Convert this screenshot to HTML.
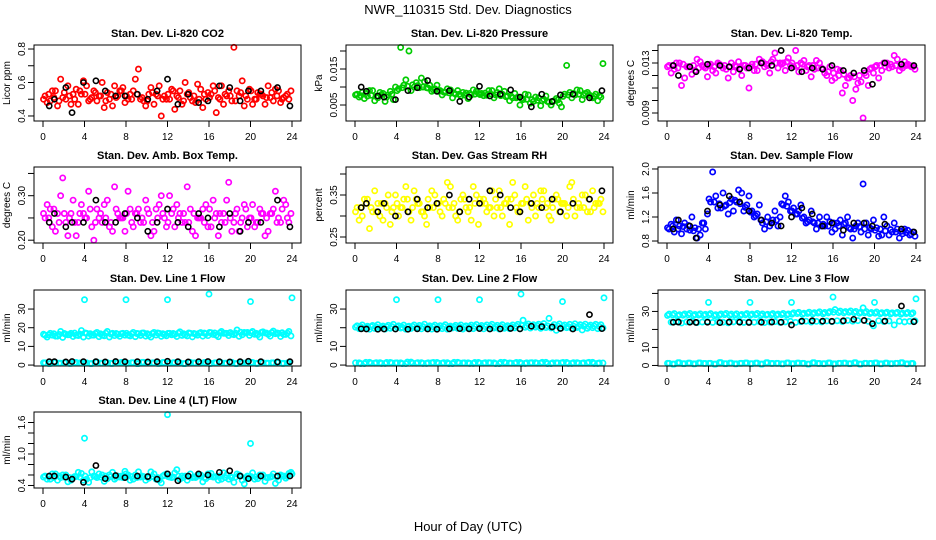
<!DOCTYPE html>
<html><head><meta charset="utf-8"><style>
html,body{margin:0;padding:0;background:#fff;}
svg{display:block;font-family:"Liberation Sans",sans-serif;}
</style></head><body>
<svg id="chart" width="936" height="540" viewBox="0 0 936 540">
<text x="468" y="14" text-anchor="middle" font-size="13">NWR_110315  Std. Dev. Diagnostics</text>
<text x="468" y="531" text-anchor="middle" font-size="13">Hour of Day (UTC)</text>
</svg>
<script>
const hoursA=[0.2,0.7,1.2,1.7,2.2,2.7,3.2,3.7,4.2,4.7,5.2,5.7,6.2,6.7,7.2,7.7,8.2,8.7,9.2,9.7,10.2,10.7,11.2,11.7,12.2,12.7,13.2,13.7,14.2,14.7,15.2,15.7,16.2,16.7,17.2,17.7,18.2,18.7,19.2,19.7,20.2,20.7,21.2,21.7,22.2,22.7,23.2,23.7];
const hoursB=[0.4,0.9,1.4,1.9,2.4,2.9,3.4,3.9,4.4,4.9,5.4,5.9,6.4,6.9,7.4,7.9,8.4,8.9,9.4,9.9,10.4,10.9,11.4,11.9,12.4,12.9,13.4,13.9,14.4,14.9,15.4,15.9,16.4,16.9,17.4,17.9,18.4,18.9,19.4,19.9,20.4,20.9,21.4,21.9,22.4,22.9,23.4,23.9];
const hoursC=[0.05,0.55,1.05,1.55,2.05,2.55,3.05,3.55,4.05,4.55,5.05,5.55,6.05,6.55,7.05,7.55,8.05,8.55,9.05,9.55,10.05,10.55,11.05,11.55,12.05,12.55,13.05,13.55,14.05,14.55,15.05,15.55,16.05,16.55,17.05,17.55,18.05,18.55,19.05,19.55,20.05,20.55,21.05,21.55,22.05,22.55,23.05,23.55];
const hoursK=[0.6,1.1,2.2,2.8,3.9,5.1,6.0,7.0,7.9,9.1,10.1,11.0,12.0,13.0,14.0,15.0,15.9,17.0,18.0,19.0,19.8,21.0,22.6,23.8];
const outHours=[4,8,12,16,20,24];

const co2A=[0.52,0.49,0.55,0.62,0.50,0.47,0.56,0.53,0.58,0.51,0.49,0.60,0.54,0.46,0.52,0.57,0.50,0.55,0.68,0.49,0.53,0.47,0.58,0.52,0.50,0.44,0.55,0.60,0.51,0.48,0.56,0.50,0.53,0.42,0.58,0.52,0.49,0.55,0.61,0.50,0.47,0.54,0.52,0.58,0.49,0.55,0.51,0.50];
const co2B=[0.48,0.55,0.46,0.51,0.58,0.53,0.47,0.61,0.49,0.55,0.52,0.45,0.50,0.58,0.55,0.48,0.53,0.62,0.50,0.46,0.57,0.53,0.40,0.50,0.56,0.52,0.47,0.53,0.49,0.59,0.45,0.54,0.58,0.51,0.47,0.55,0.81,0.52,0.46,0.56,0.50,0.53,0.47,0.51,0.56,0.48,0.52,0.55];
const co2C=[0.50,0.53,0.51,0.49,0.54,0.52,0.50,0.55,0.53,0.50,0.54,0.52,0.49,0.53,0.51,0.55,0.52,0.50,0.53,0.51,0.49,0.54,0.52,0.50,0.53,0.55,0.51,0.49,0.54,0.52,0.50,0.53,0.51,0.55,0.50,0.53,0.52,0.49,0.54,0.52,0.55,0.50,0.53,0.51,0.54,0.52,0.50,0.53];
const co2K=[0.46,0.50,0.57,0.42,0.60,0.61,0.55,0.52,0.52,0.53,0.50,0.55,0.62,0.47,0.53,0.48,0.49,0.58,0.57,0.49,0.55,0.55,0.57,0.46];

const presA=[.0080,.0085,.0075,.0090,.0070,.0082,.0078,.0065,.0095,.0105,.0200,.0100,.0098,.0115,.0105,.0095,.0090,.0085,.0092,.0080,.0075,.0083,.0078,.0088,.0082,.0077,.0090,.0085,.0080,.0075,.0070,.0072,.0065,.0078,.0060,.0070,.0066,.0058,.0062,.0055,.0080,.0085,.0078,.0090,.0082,.0075,.0080,.0072];
const presB=[.0072,.0068,.0090,.0062,.0085,.0060,.0088,.0100,.0210,.0120,.0090,.0112,.0125,.0098,.0088,.0105,.0078,.0095,.0070,.0090,.0085,.0068,.0092,.0082,.0076,.0090,.0070,.0095,.0088,.0062,.0082,.0050,.0080,.0055,.0072,.0048,.0075,.0050,.0068,.0045,.0160,.0070,.0092,.0065,.0085,.0070,.0062,.0165];
const presC=[.0078,.0076,.0082,.0077,.0074,.0079,.0072,.0080,.0090,.0098,.0102,.0106,.0104,.0100,.0097,.0092,.0088,.0086,.0084,.0083,.0080,.0078,.0082,.0080,.0079,.0083,.0081,.0078,.0076,.0073,.0074,.0070,.0068,.0066,.0065,.0063,.0062,.0060,.0059,.0064,.0074,.0078,.0082,.0080,.0077,.0079,.0074,.0076];
const presK=[.0100,.0088,.0075,.0072,.0065,.0090,.0098,.0118,.0088,.0090,.0060,.0072,.0102,.0075,.0080,.0092,.0072,.0045,.0080,.0060,.0078,.0080,.0070,.0090];

const tempA=[.0128,.0125,.0130,.0118,.0127,.0124,.0131,.0126,.0129,.0122,.0128,.0125,.0130,.0127,.0120,.0126,.0129,.0124,.0131,.0128,.0133,.0126,.0130,.0134,.0127,.0123,.0132,.0128,.0125,.0130,.0122,.0127,.0118,.0124,.0112,.0120,.0109,.0115,.0120,.0126,.0128,.0124,.0130,.0127,.0133,.0126,.0129,.0127];
const tempB=[.0122,.0130,.0112,.0127,.0121,.0133,.0128,.0119,.0124,.0130,.0126,.0118,.0123,.0131,.0128,.0110,.0124,.0133,.0127,.0122,.0138,.0130,.0124,.0128,.0140,.0130,.0124,.0119,.0132,.0126,.0120,.0116,.0125,.0106,.0118,.0100,.0114,.0086,.0112,.0122,.0118,.0130,.0126,.0136,.0124,.0131,.0128,.0125];
const tempC=[.0127,.0128,.0126,.0129,.0127,.0128,.0126,.0127,.0128,.0127,.0129,.0128,.0127,.0128,.0126,.0128,.0127,.0129,.0130,.0129,.0131,.0130,.0129,.0131,.0130,.0128,.0129,.0127,.0128,.0126,.0125,.0123,.0122,.0120,.0121,.0118,.0119,.0120,.0122,.0125,.0127,.0128,.0127,.0129,.0128,.0127,.0128,.0127];
const tempK=[.0128,.0120,.0127,.0123,.0129,.0128,.0127,.0125,.0126,.0130,.0128,.0140,.0126,.0123,.0126,.0125,.0128,.0124,.0122,.0124,.0113,.0130,.0129,.0128];

const boxA=[.25,.27,.22,.30,.24,.26,.21,.28,.25,.23,.27,.24,.29,.22,.26,.25,.31,.23,.27,.24,.26,.22,.28,.25,.30,.23,.26,.24,.27,.21,.25,.28,.23,.26,.24,.29,.22,.27,.25,.23,.28,.24,.26,.22,.27,.25,.29,.24];
const boxB=[.28,.23,.26,.34,.21,.29,.24,.26,.31,.20,.25,.28,.23,.32,.25,.22,.27,.26,.24,.29,.21,.27,.30,.23,.26,.28,.24,.32,.22,.25,.27,.23,.29,.21,.26,.33,.24,.22,.28,.25,.23,.27,.21,.26,.31,.24,.28,.26];
const boxC=[.26,.25,.27,.24,.26,.25,.24,.26,.25,.27,.24,.26,.25,.24,.27,.25,.26,.24,.26,.25,.27,.24,.25,.26,.24,.27,.25,.26,.24,.26,.25,.24,.27,.25,.26,.24,.25,.26,.24,.27,.25,.24,.26,.25,.26,.24,.27,.25];
const boxK=[.24,.26,.23,.24,.24,.29,.24,.24,.26,.25,.22,.24,.27,.24,.23,.26,.25,.23,.26,.22,.24,.24,.29,.23];

const rhA=[.32,.30,.34,.31,.33,.29,.35,.32,.30,.34,.31,.36,.33,.30,.32,.35,.31,.33,.37,.30,.34,.32,.29,.35,.33,.31,.36,.32,.30,.34,.38,.31,.33,.29,.35,.32,.36,.30,.34,.31,.33,.37,.30,.32,.35,.31,.33,.34];
const rhB=[.29,.34,.27,.36,.30,.33,.28,.35,.32,.37,.29,.34,.31,.28,.36,.33,.30,.38,.32,.29,.35,.31,.37,.28,.34,.32,.30,.36,.33,.28,.35,.31,.37,.33,.30,.36,.32,.29,.35,.33,.30,.38,.32,.35,.31,.36,.33,.31];
const rhC=[.31,.32,.33,.32,.31,.33,.32,.31,.33,.32,.34,.32,.33,.31,.34,.32,.33,.34,.32,.33,.31,.34,.32,.33,.34,.33,.32,.34,.32,.33,.34,.32,.33,.34,.32,.33,.34,.33,.32,.34,.33,.32,.34,.33,.32,.34,.32,.33];
const rhK=[.32,.33,.31,.33,.30,.31,.34,.32,.33,.35,.31,.34,.33,.36,.35,.32,.31,.33,.32,.34,.31,.33,.34,.36];

const sfA=[1.0,0.95,1.05,1.1,0.98,1.02,0.9,1.0,1.45,1.55,1.35,1.4,1.5,1.45,1.6,1.4,1.3,1.25,1.1,1.2,1.15,1.05,1.4,1.45,1.35,1.3,1.2,1.15,1.1,1.2,1.05,1.12,1.0,1.15,1.1,1.0,1.05,0.95,1.1,1.0,1.02,0.9,1.05,0.95,1.0,0.92,0.98,0.95];
const sfB=[1.08,1.15,0.92,1.0,1.2,0.85,1.1,1.25,1.95,1.35,1.6,1.25,1.3,1.65,1.3,1.55,1.2,1.4,1.0,1.05,1.3,1.2,1.55,1.3,1.25,1.4,1.1,1.3,1.0,1.05,1.2,0.95,1.1,0.9,1.2,0.85,1.1,1.75,0.9,1.15,0.88,1.2,0.9,1.1,0.85,1.0,0.9,0.88];
const sfC=[1.02,1.05,1.0,1.04,1.06,0.97,1.0,1.1,1.5,1.45,1.42,1.38,1.44,1.48,1.42,1.36,1.28,1.22,1.15,1.12,1.1,1.15,1.42,1.38,1.3,1.25,1.18,1.12,1.12,1.1,1.08,1.05,1.1,1.05,1.08,1.02,1.0,1.04,1.0,1.02,0.98,1.0,0.97,0.99,0.95,0.96,0.94,0.92];
const sfK=[1.0,1.15,1.05,0.85,1.3,1.4,1.55,1.45,1.3,1.15,1.1,1.05,1.2,1.35,1.25,1.05,1.1,0.98,1.1,1.1,1.05,1.08,1.0,0.95];

const zeroBand=[1.2,0.8,1.5,1.0,1.3,0.9,1.4,1.1,1.2,0.8,1.6,1.0,1.3,0.9,1.2,1.4,1.0,1.3,0.8,1.5,1.1,1.2,0.9,1.4,1.0,1.3,1.2,0.8,1.5,1.1,1.0,1.4,0.9,1.2,1.3,1.0,1.5,0.8,1.2,1.1,1.4,0.9,1.3,1.0,1.2,1.5,0.9,1.1];

const l1A=[16,17,15.5,18,16.5,17,16,18.5,17,16,17.5,16,18,17,16.5,17,16,17.5,16.8,17.2,16,17.5,17,16.3,17,16.5,17.8,16.2,17,16.6,17.4,16.8,17.3,16,18,17,16.6,18.8,16.2,17.5,18,16.3,17.8,16.5,18.2,17,16.4,18];
const l1B=[15,16,15.5,14.8,16.2,15.3,15.8,15,15.5,16,15.2,15.7,15,15.8,15.4,16,15.6,15.2,15.9,15.5,15,16.1,15.4,15.7,16.2,15.3,15.9,15.6,15.1,16,15.5,15.8,16.4,15.2,17,15.8,16.3,15.4,17.5,15.9,16.5,15,17.2,15.5,16.8,15.3,16.4,15.6];
const l1C=[16.5,16.2,16.8,16.4,16.9,16.3,17.1,16.6,17.2,16.8,16.9,16.7,17.1,16.6,16.9,16.8,17.0,16.7,16.9,17.1,16.8,16.9,17.2,16.8,17.0,16.9,17.1,16.8,17.2,16.9,17.0,17.1,17.5,17.2,17.3,17.0,17.4,17.1,17.6,17.2,17.3,17.0,17.5,17.1,17.4,17.2,17.3,17.1];
const l1Out=[35,35,35,38,34,36];
const l1K=[1.8,1.8,1.7,1.9,1.8,1.8,1.7,1.9,1.8,1.8,1.7,1.8,2.0,1.8,1.7,1.8,1.9,1.8,1.7,1.8,2.0,1.8,1.7,1.8];

const l2A=[21,21.5,20.8,21.2,21.6,20.9,21.3,21.8,21,21.4,20.8,21.5,21.2,21.9,21,21.4,21.1,21.6,20.9,21.3,21.5,21,21.4,21.7,21.2,21.5,21.8,21.3,21.6,21.1,21.5,21.8,24,22,21.6,21.9,22.2,25,21.7,22,21.5,21.8,22.1,21.6,21.9,21.4,21.8,21.6];
const l2B=[19.5,19.8,19.2,19.6,19.9,19.3,19.7,19.4,19.8,19.2,19.6,19.9,19.4,19.7,19.3,19.8,19.5,19.2,19.9,19.6,19.3,19.7,19.5,19.9,19.4,19.6,19.8,19.3,19.7,19.5,19.9,19.4,20.2,19.8,20.3,19.7,20.1,19.9,18.6,19.8,20,19.6,20.1,18.8,19.7,20,19.5,19.9];
const l2C=[20.3,20.5,20.2,20.6,20.4,20.3,20.5,20.6,20.4,20.2,20.5,20.7,20.3,20.6,20.4,20.5,20.3,20.6,20.4,20.5,20.6,20.3,20.5,20.7,20.4,20.6,20.8,20.5,20.7,20.4,20.6,20.8,21.2,21,20.9,21.1,20.8,21,20.7,20.9,20.8,20.6,20.9,20.7,20.8,20.6,20.9,20.7];
const l2Out=[35,35,35,38,34,36];
const l2K=[19.4,19.3,19.2,19.3,19.3,19.2,19.4,19.3,19.2,19.4,19.5,19.4,19.5,19.3,19.4,19.6,19.4,20.8,20.6,20.4,19.6,19.3,27,19.5];

const l3A=[28.5,28.8,28.2,28.6,28.9,28.3,28.7,28.4,28.8,28.2,28.6,28.9,28.5,28.7,28.3,28.8,28.5,28.9,28.6,28.4,28.8,28.5,28.9,28.6,29.2,29.5,29,29.6,29.3,29.8,29.4,29.9,31,30.2,29.9,30.3,30,29.6,29.9,29.4,29.7,29.3,29.6,29.2,29.5,29.1,29.4,29.2];
const l3B=[24,24.3,23.6,24.2,24.5,23.8,24.1,24.4,23.9,24.3,24.0,23.7,24.2,24.5,23.9,24.2,24.0,24.4,23.8,24.1,24.3,23.9,24.2,24.5,23.9,24.3,24.6,24.1,24.5,24.2,24.7,24.3,24.8,24.4,25,24.6,24.9,32,24.5,22,24.8,24.4,24.7,22.5,24.6,24.2,24.5,24.8];
const l3C=[27.8,28,27.6,27.9,28.1,27.7,28,27.8,28.1,27.6,27.9,28.2,27.8,28,27.7,28.1,27.9,28.2,27.8,28,28.1,27.9,28.2,28,28.5,28.8,28.4,28.9,28.6,29.1,28.7,29.2,29.6,29.4,29.2,29.5,29.3,29,29.2,28.8,29,28.7,29,28.6,28.9,28.5,28.8,28.6];
const l3Out=[35,35,35,38,35,37];
const l3K=[24.0,24.1,24.0,23.9,24.0,23.8,24.1,24.0,23.9,24.0,24.1,24.0,22.5,24.6,24.8,24.6,24.5,24.8,25.6,25,23.2,24.6,33,24.3];

const l4A=[0.58,0.52,0.62,0.55,0.6,0.5,0.57,0.63,0.52,0.66,0.55,0.6,0.53,0.65,0.58,0.55,0.6,0.52,0.66,0.57,0.54,0.62,0.5,0.6,0.56,0.64,0.52,0.58,0.62,0.55,0.6,0.53,0.63,0.57,0.52,0.6,0.55,0.62,0.5,0.58,0.64,0.53,0.6,0.55,0.62,0.5,0.58,0.63];
const l4B=[0.52,0.62,0.5,0.6,0.47,0.55,0.65,0.5,0.46,0.58,0.62,0.48,0.6,0.52,0.56,0.67,0.5,0.6,0.56,0.5,0.66,0.52,0.45,0.62,0.55,0.7,0.58,0.5,0.55,0.6,0.47,0.62,0.56,0.5,0.64,0.52,0.46,0.6,0.43,0.55,0.52,0.6,0.48,0.56,0.44,0.6,0.54,0.65];
const l4C=[0.56,0.57,0.55,0.58,0.56,0.55,0.57,0.56,0.58,0.55,0.57,0.56,0.58,0.57,0.55,0.58,0.56,0.57,0.55,0.58,0.56,0.57,0.55,0.58,0.57,0.56,0.58,0.55,0.57,0.56,0.58,0.55,0.57,0.56,0.58,0.55,0.57,0.56,0.58,0.55,0.57,0.56,0.58,0.55,0.57,0.56,0.58,0.57];
const l4Out=[1.3,0.62,1.75,0.6,1.2,0.62];
const l4K=[0.58,0.58,0.56,0.52,0.46,0.78,0.53,0.59,0.55,0.58,0.57,0.52,0.62,0.49,0.58,0.62,0.6,0.65,0.68,0.58,0.53,0.58,0.58,0.58];

const svg=document.getElementById('chart');
const NS='http://www.w3.org/2000/svg';
function mk(tag,attrs,parent){const e=document.createElementNS(NS,tag);for(const k in attrs)e.setAttribute(k,attrs[k]);(parent||svg).appendChild(e);return e;}

const tops=[45,167,290,412];
const panels=[
 {col:0,row:0,name:'co2',title:'Stan. Dev. Li-820 CO2',ylab:'Licor ppm',lo:0.370,hi:0.824,ticks:[0.4,0.5,0.6,0.7,0.8],labels:['0.4','','0.6','','0.8'],color:'#ff0000',series:[[hoursC,co2C],[hoursA,co2A],[hoursB,co2B]],black:co2K},
 {col:1,row:0,name:'pressure',title:'Stan. Dev. Li-820 Pressure',ylab:'kPa',lo:0.00056,hi:0.02167,ticks:[0.005,0.010,0.015,0.020],labels:['0.005','','0.015',''],color:'#00cc00',series:[[hoursC,presC],[hoursA,presA],[hoursB,presB]],black:presK},
 {col:2,row:0,name:'temp',title:'Stan. Dev. Li-820 Temp.',ylab:'degrees C',lo:0.00836,hi:0.01444,ticks:[0.009,0.010,0.011,0.012,0.013,0.014],labels:['0.009','','','','0.013',''],color:'#ff00ff',series:[[hoursC,tempC],[hoursA,tempA],[hoursB,tempB]],black:tempK},
 {col:0,row:1,name:'box-temp',title:'Stan. Dev. Amb. Box Temp.',ylab:'degrees C',lo:0.1937,hi:0.3645,ticks:[0.20,0.25,0.30,0.35],labels:['0.20','','0.30',''],color:'#ff00ff',series:[[hoursC,boxC],[hoursA,boxA],[hoursB,boxB]],black:boxK},
 {col:1,row:1,name:'rh',title:'Stan. Dev. Gas Stream RH',ylab:'percent',lo:0.2357,hi:0.4167,ticks:[0.25,0.30,0.35,0.40],labels:['0.25','','0.35',''],color:'#ffff00',series:[[hoursC,rhC],[hoursA,rhA],[hoursB,rhB]],black:rhK},
 {col:2,row:1,name:'sample-flow',title:'Stan. Dev. Sample Flow',ylab:'ml/min',lo:0.767,hi:2.033,ticks:[0.8,1.2,1.6,2.0],labels:['0.8','1.2','1.6','2.0'],color:'#0000ff',series:[[hoursC,sfC],[hoursA,sfA],[hoursB,sfB]],black:sfK},
 {col:0,row:2,name:'line1',title:'Stan. Dev. Line 1 Flow',ylab:'ml/min',lo:-0.5,hi:40.2,ticks:[0,10,20,30],labels:['0','10','20','30'],color:'#00ffff',series:[[hoursC,l1C],[hoursA,l1A],[hoursB,l1B],[hoursA,zeroBand],[hoursC,zeroBand],[outHours,l1Out]],black:l1K},
 {col:1,row:2,name:'line2',title:'Stan. Dev. Line 2 Flow',ylab:'ml/min',lo:-0.5,hi:40.2,ticks:[0,10,20,30],labels:['0','10','','30'],color:'#00ffff',series:[[hoursC,l2C],[hoursA,l2A],[hoursB,l2B],[hoursB,zeroBand],[hoursC,zeroBand],[outHours,l2Out]],black:l2K},
 {col:2,row:2,name:'line3',title:'Stan. Dev. Line 3 Flow',ylab:'ml/min',lo:-0.3,hi:41.9,ticks:[0,10,20,30,40],labels:['0','10','','30',''],color:'#00ffff',series:[[hoursC,l3C],[hoursA,l3A],[hoursB,l3B],[hoursA,zeroBand],[hoursC,zeroBand],[outHours,l3Out]],black:l3K},
 {col:0,row:3,name:'line4',title:'Stan. Dev. Line 4 (LT) Flow',ylab:'ml/min',lo:0.352,hi:1.8,ticks:[0.4,0.6,0.8,1.0,1.2,1.4,1.6],labels:['0.4','','','1.0','','','1.6'],color:'#00ffff',series:[[hoursC,l4C],[hoursA,l4A],[hoursB,l4B],[outHours,l4Out]],black:l4K}
];
const xTicks=[0,4,8,12,16,20,24];

panels.forEach(p=>{
  const x0=43+312*p.col, top=tops[p.row], bot=top+76, left=x0-9, right=x0+258;
  const px=h=>x0+h*249/24;
  const py=v=>bot-(v-p.lo)/(p.hi-p.lo)*76;
  const g=mk('g',{});
  
  
  const t=mk('text',{x:(left+right)/2,y:top-8,'text-anchor':'middle','font-size':'11','font-weight':'bold'},g);
  t.textContent=p.title;
  
  
  const yl=mk('text',{x:0,y:0,'text-anchor':'middle','font-size':'10',transform:`translate(${left-24},${(top+bot)/2}) rotate(-90)`},g);
  yl.textContent=p.ylab;
  
  
  const clip=mk('g',{},g);
  p.series.forEach((s,si)=>{
    s[1].forEach((v,i)=>{
      const c=mk('circle',{cx:px(s[0][i]),cy:py(v),r:2.6,fill:'none',stroke:p.color,'stroke-width':1.7},clip);
      
      
    });
  });
  p.black.forEach((v,i)=>{
    const c=mk('circle',{cx:px(hoursK[i]),cy:py(v),r:2.6,fill:'none',stroke:'#000','stroke-width':1.6},clip);
    
    
  });
  const fr=mk('rect',{x:left,y:top,width:right-left,height:bot-top,fill:'none',stroke:'#000','stroke-width':1},g);
  
  
  xTicks.forEach(h=>{
    mk('line',{x1:px(h),x2:px(h),y1:bot,y2:bot+6,stroke:'#000'},g);
    const tl=mk('text',{x:px(h),y:bot+19,'text-anchor':'middle','font-size':'10'},g);
    tl.textContent=h;
    
    
  });
  p.ticks.forEach((v,i)=>{
    const y=py(v);
    mk('line',{x1:left-6,x2:left,y1:y,y2:y,stroke:'#000'},g);
    if(p.labels[i]){
      const tl=mk('text',{x:0,y:0,'text-anchor':'middle','font-size':'10',transform:`translate(${left-9},${y}) rotate(-90)`},g);
      tl.textContent=p.labels[i];
      
      
    }
  });
});
</script>
</body></html>
